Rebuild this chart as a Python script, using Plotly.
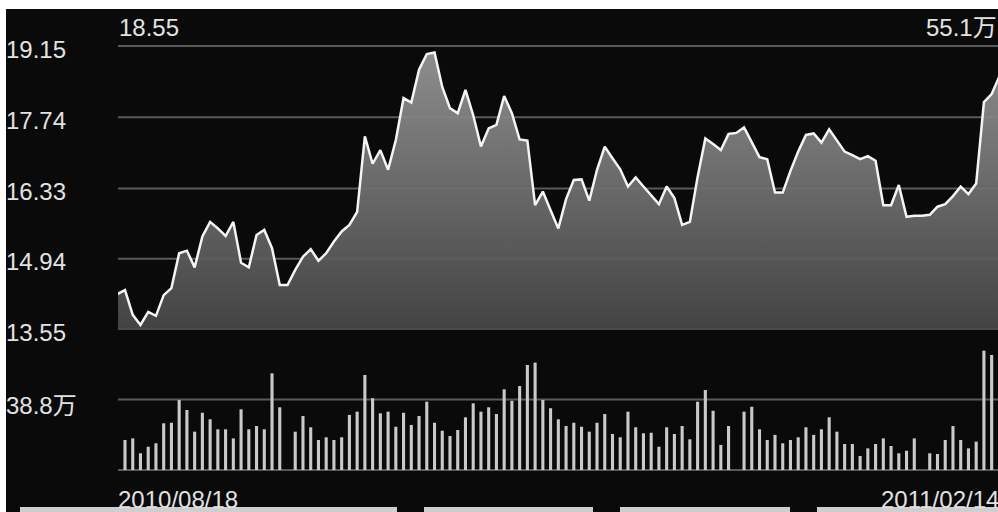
import plotly.graph_objects as go

# ---- data ----
idx = list(range(115))
price = [14.24, 14.32, 13.83, 13.63, 13.89, 13.81, 14.22, 14.36, 15.05, 15.10,
         14.77, 15.38, 15.67, 15.54, 15.39, 15.67, 14.86, 14.77, 15.41, 15.51,
         15.15, 14.42, 14.42, 14.72, 14.98, 15.13, 14.90, 15.05, 15.28, 15.48,
         15.61, 15.87, 17.36, 16.82, 17.09, 16.70, 17.29, 18.12, 18.03, 18.68,
         18.99, 19.02, 18.34, 17.92, 17.82, 18.28, 17.78, 17.16, 17.52, 17.59,
         18.16, 17.82, 17.30, 17.28, 16.00, 16.27, 15.90, 15.54, 16.12, 16.50,
         16.51, 16.09, 16.70, 17.16, 16.93, 16.71, 16.37, 16.55, 16.37, 16.20,
         16.02, 16.37, 16.14, 15.61, 15.67, 16.56, 17.32, 17.21, 17.09, 17.41,
         17.43, 17.54, 17.26, 16.95, 16.91, 16.25, 16.25, 16.68, 17.06, 17.39,
         17.42, 17.24, 17.50, 17.29, 17.06, 16.99, 16.91, 16.97, 16.88, 16.00,
         16.00, 16.40, 15.77, 15.79, 15.79, 15.81, 15.97, 16.02, 16.18, 16.37,
         16.22, 16.43, 18.04, 18.20, 18.55]
volume = [None, 16.5, 17.4, 9.2, 12.8, 14.7, 25.7, 26.0, 38.5, 33.0,
          21.1, 31.5, 27.9, 22.4, 22.4, 17.4, 33.4, 22.4, 24.2, 22.4,
          53.2, 34.5, None, 21.1, 29.7, 23.5, 16.5, 18.0, 16.5, 18.0,
          30.3, 32.1, 52.3, 39.5, 31.2, 32.1, 23.8, 31.5, 24.8, 29.7,
          37.6, 26.0, 21.6, 18.7, 22.0, 29.0, 36.7, 32.1, 34.5, 30.8,
          44.4, 38.1, 46.2, 57.8, 59.1, 38.5, 34.0, 27.9, 24.2, 26.0,
          23.8, 21.1, 26.0, 30.8, 19.8, 18.0, 32.1, 23.5, 20.2, 20.5,
          12.8, 23.5, 19.8, 24.2, 16.9, 37.6, 44.0, 32.6, 13.8, 24.2,
          None, 32.1, 34.8, 22.4, 16.5, 19.3, 14.7, 16.5, 18.0, 23.5,
          19.3, 22.4, 29.0, 21.1, 14.3, 14.3, 7.7, 11.9, 14.3, 17.4,
          13.2, 9.2, 10.6, 17.4, None, 9.2, 8.8, 16.5, 24.2, 16.5,
          11.9, 15.6, 65.7, 63.3, None]
price_ticks = [19.15, 17.74, 16.33, 14.94, 13.55]
price_tick_text = ["19.15", "17.74", "16.33", "14.94", "13.55"]
vol_tick = 38.8
vol_tick_text = "38.8万"
last_price_text = "18.55"
last_vol_text = "55.1万"
date_start = "2010/08/18"
date_end = "2011/02/14"

W, H = 998, 512
def px(x):
    return x / W
def py(y):
    return 1 - y / H

FONT = "Liberation Sans, Arial, Helvetica, Noto Sans CJK SC, sans-serif"
TXT = "#e2e2e2"
GRID = "#5a5a5a"

# price scale: 19.15 at y=46, 13.55 at y=329
ppu = (329 - 46) / (19.15 - 13.55)
p_top, p_bot = 45, 330
p_rng = [13.55 - (p_bot - 329) / ppu, 19.15 + (46 - p_top) / ppu]
# volume scale: 0 at y=470, 77.6 at y=329
vpu = (470 - 329) / 77.6
v_top, v_bot = 329, 472
v_rng = [-(v_bot - 470) / vpu, 77.6]

x_rng = [0.096, 113.82]

fig = go.Figure()
fig.add_trace(go.Scatter(
    x=idx, y=price, mode="lines", xaxis="x", yaxis="y",
    line=dict(color="#f4f4f4", width=2.5),
    fill="tozeroy",
    fillgradient=dict(type="vertical", start=13.55, stop=19.15,
                      colorscale=[[0, "rgba(72,72,72,0.92)"], [1, "rgba(154,154,154,0.92)"]]),
    hoverinfo="skip",
))
fig.add_trace(go.Bar(
    x=idx, y=volume, xaxis="x2", yaxis="y2", width=0.4,
    marker=dict(color="#cacaca", line=dict(width=0)),
    hoverinfo="skip",
))

shapes = [dict(type="rect", xref="paper", yref="paper", x0=px(6), x1=1.0,
               y0=0, y1=py(9), fillcolor="#0a0a0a", line=dict(width=0), layer="below")]
for v in price_ticks:
    shapes.append(dict(type="line", xref="x domain", x0=0, x1=1, yref="y", y0=v, y1=v,
                       line=dict(color=GRID, width=2), layer="below"))
for v in [vol_tick, 0]:
    shapes.append(dict(type="line", xref="x2 domain", x0=0, x1=1, yref="y2", y0=v, y1=v,
                       line=dict(color=GRID, width=2), layer="below"))
# bottom buttons (decoration)
for a, b in [(20, 397), (424, 593), (620, 790), (817, 1000)]:
    shapes.append(dict(type="rect", xref="paper", yref="paper", x0=px(a), x1=px(b),
                       y0=py(512), y1=py(507), fillcolor="#cfcfcf", line=dict(width=0),
                       layer="above"))

ann = []
for v, t in zip(price_ticks, price_tick_text):
    ann.append(dict(text=t, xref="paper", x=px(4), yref="y", y=v, yshift=-3,
                    xanchor="left", yanchor="middle", showarrow=False))
ann.append(dict(text=vol_tick_text, xref="paper", x=px(4), yref="y2", y=vol_tick, yshift=-6,
                xanchor="left", yanchor="middle", showarrow=False))
ann.append(dict(text=last_price_text, xref="paper", x=px(117), yref="paper", y=py(27),
                xanchor="left", yanchor="middle", showarrow=False))
ann.append(dict(text=last_vol_text, xref="paper", x=px(999), yref="paper", y=py(27),
                xanchor="right", yanchor="middle", showarrow=False))
ann.append(dict(text=date_start, xref="paper", x=px(116), yref="paper", y=py(499),
                xanchor="left", yanchor="middle", showarrow=False))
ann.append(dict(text=date_end, xref="paper", x=px(1001), yref="paper", y=py(499),
                xanchor="right", yanchor="middle", showarrow=False))

axis_hidden = dict(showgrid=False, zeroline=False, showline=False, showticklabels=False,
                   ticks="", fixedrange=True)
fig.update_layout(
    width=W, height=H, margin=dict(l=0, r=0, t=0, b=0, pad=0),
    paper_bgcolor="#ffffff", plot_bgcolor="rgba(0,0,0,0)",
    showlegend=False,
    font=dict(family=FONT, size=24, color=TXT),
    xaxis=dict(domain=[px(118), 1], range=x_rng, anchor="y", **axis_hidden),
    yaxis=dict(domain=[py(p_bot), py(p_top)], range=p_rng, anchor="x", **axis_hidden),
    xaxis2=dict(domain=[px(118), 1], range=x_rng, anchor="y2", **axis_hidden),
    yaxis2=dict(domain=[py(v_bot), py(v_top)], range=v_rng, anchor="x2", **axis_hidden),
    shapes=shapes,
    annotations=ann,
)

fig.write_html(
    "out.html",
    config={"displayModeBar": False},
    post_script="document.body.style.margin='0';document.body.style.overflow='hidden';",
)
